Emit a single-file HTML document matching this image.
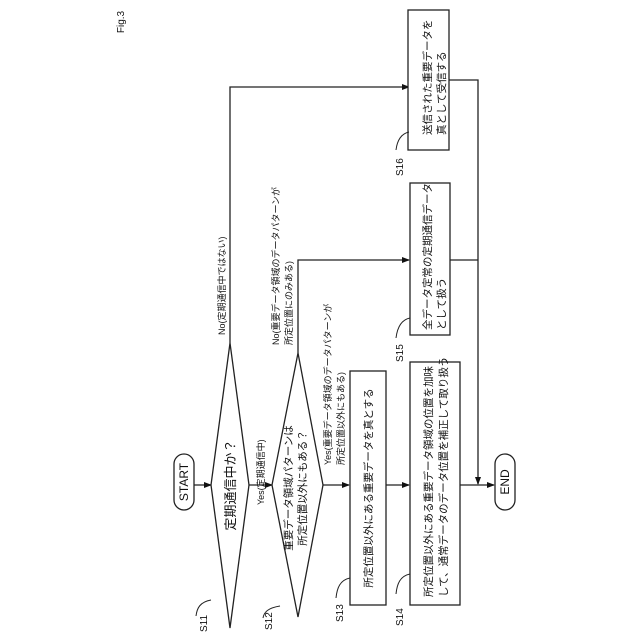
<!DOCTYPE html>
<html><head><meta charset="utf-8"><style>
html,body{margin:0;padding:0;background:#fff;}
svg{display:block;}
text{font-family:"Liberation Sans","Noto Sans CJK JP",sans-serif;fill:#111;}
</style></head><body>
<svg width="640" height="640" viewBox="0 0 640 640" xmlns="http://www.w3.org/2000/svg">
<defs><marker id="a" markerWidth="8" markerHeight="6" refX="7" refY="3" orient="auto" markerUnits="userSpaceOnUse"><path d="M0,0 L8,3 L0,6 z" fill="#111"/></marker></defs>
<g stroke="#222" stroke-width="1.3" fill="none">
<!-- START -->
<rect x="174" y="454" width="20" height="56" rx="10" fill="#fff"/>
<line x1="194" y1="485" x2="211" y2="485" marker-end="url(#a)"/>
<!-- S11 -->
<polygon points="230,343 249,485 230,628 211,485" fill="#fff"/>
<line x1="249" y1="485" x2="272" y2="485" marker-end="url(#a)"/>
<!-- S12 -->
<polygon points="298,353 323,485 298,617 272,485" fill="#fff"/>
<line x1="323" y1="485" x2="349" y2="485" marker-end="url(#a)"/>
<!-- S13 -->
<rect x="350" y="371" width="36" height="234" fill="#fff"/>
<line x1="386" y1="485" x2="409" y2="485" marker-end="url(#a)"/>
<!-- S14 -->
<rect x="410" y="362" width="50" height="243" fill="#fff"/>
<line x1="460" y1="485" x2="494" y2="485" marker-end="url(#a)"/>
<!-- END -->
<rect x="495" y="454" width="20" height="56" rx="10" fill="#fff"/>
<!-- No branches -->
<polyline points="230,343 230,87 409,87" marker-end="url(#a)"/>
<polyline points="298,353 298,260 409,260" marker-end="url(#a)"/>
<!-- S16 -->
<rect x="408" y="10" width="41" height="140" fill="#fff"/>
<!-- S15 -->
<rect x="410" y="183" width="40" height="152" fill="#fff"/>
<!-- right collector -->
<polyline points="449,80 478,80 478,484" marker-end="url(#a)"/>
<line x1="450" y1="260" x2="478" y2="260"/>
<!-- leaders -->
<path d="M211,600 C200,602 197,608 196,616" stroke-width="1"/>
<path d="M280,606 C268,608 264,612 263,618" stroke-width="1"/>
<path d="M350,578 C340,580 337,588 336,598" stroke-width="1"/>
<path d="M410,574 C400,576 397,584 396,594" stroke-width="1"/>
<path d="M410,318 C400,320 397,330 396,338" stroke-width="1"/>
<path d="M409,132 C400,134 397,142 396,150" stroke-width="1"/>
</g>
<g font-size="10">
<text transform="translate(124,22) rotate(-90)" text-anchor="middle" font-size="10">Fig.3</text>
<text transform="translate(188,482) rotate(-90)" text-anchor="middle" font-size="12">START</text>
<text transform="translate(509,482) rotate(-90)" text-anchor="middle" font-size="12">END</text>
<text transform="translate(235,485) rotate(-90)" text-anchor="middle" font-size="13">定期通信中か？</text>
<text transform="translate(292,488) rotate(-90)" text-anchor="middle" font-size="10.5">重要データ領域パターンは</text>
<text transform="translate(306,488) rotate(-90)" text-anchor="middle" font-size="10.5">所定位置以外にもある？</text>
<text transform="translate(372,488) rotate(-90)" text-anchor="middle" font-size="10.5">所定位置以外にある重要データを真とする</text>
<text transform="translate(432,597) rotate(-90)" font-size="10.5">所定位置以外にある重要データ領域の位置を加味</text>
<text transform="translate(447,597) rotate(-90)" font-size="10.5">して、通常データのデータ位置を補正して取り扱う</text>
<text transform="translate(431,330) rotate(-90)" font-size="10.5">全データ定常の定期通信データ</text>
<text transform="translate(445,330) rotate(-90)" font-size="10.5">として扱う</text>
<text transform="translate(431,135) rotate(-90)" font-size="10.5">送信された重要データを</text>
<text transform="translate(445,135) rotate(-90)" font-size="10.5">真として受信する</text>
<text transform="translate(225,335) rotate(-90)" font-size="9">No(定期通信中ではない)</text>
<text transform="translate(279,345) rotate(-90)" font-size="9">No(重要データ領域のデータパターンが</text>
<text transform="translate(292,345) rotate(-90)" font-size="9">所定位置にのみある)</text>
<text transform="translate(331,465) rotate(-90)" font-size="9">Yes(重要データ領域のデータパターンが</text>
<text transform="translate(344,465) rotate(-90)" font-size="9">所定位置以外にもある)</text>
<text transform="translate(264,505) rotate(-90)" font-size="9">Yes(定期通信中)</text>
<text transform="translate(207,632) rotate(-90)" font-size="10">S11</text>
<text transform="translate(272,630) rotate(-90)" font-size="10">S12</text>
<text transform="translate(343,622) rotate(-90)" font-size="10">S13</text>
<text transform="translate(403,626) rotate(-90)" font-size="10">S14</text>
<text transform="translate(403,362) rotate(-90)" font-size="10">S15</text>
<text transform="translate(403,176) rotate(-90)" font-size="10">S16</text>
</g>
</svg>
</body></html>
